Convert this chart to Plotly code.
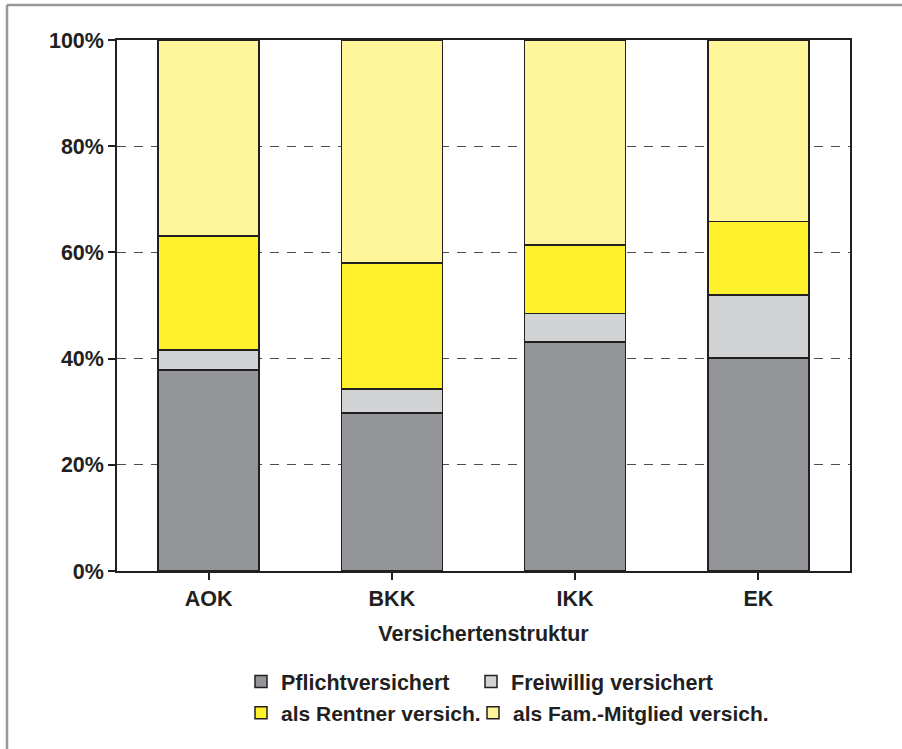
import plotly.graph_objects as go

categories = ["AOK", "BKK", "IKK", "EK"]
pflicht = [37.9, 29.8, 43.1, 40.1]
freiwillig = [3.7, 4.5, 5.35, 11.9]
rentner = [21.5, 23.7, 12.95, 13.8]
familie = [36.9, 42.0, 38.6, 34.2]

series = [
    ("Pflichtversichert", pflicht, "#939598", "legend"),
    ("Freiwillig versichert", freiwillig, "#d1d3d4", "legend2"),
    ("als Rentner versich.", rentner, "#fff22d", "legend3"),
    ("als Fam.-Mitglied versich.", familie, "#fff59b", "legend4"),
]

fig = go.Figure()
for name, vals, color, leg in series:
    fig.add_trace(go.Bar(
        x=categories, y=vals, name="<b>" + name + "</b>", legend=leg,
        showlegend=True,
        marker=dict(color=color, line=dict(color="#231f20", width=1.5)),
        width=0.55,
    ))

FAM = "Liberation Sans, Arial, sans-serif"
INK = "#231f20"
W, H = 902, 749
ml, mr, mt, mb = 117, 52, 40, 178
pw, ph = W - ml - mr, H - mt - mb

def px(x):
    return (x - ml) / pw

def py(y):
    return (H - mb - y) / ph

def leg(xpix, ypix, size):
    return dict(
        orientation="h", x=px(xpix), y=py(ypix), xanchor="left", yanchor="middle",
        font=dict(family=FAM, size=size, color=INK),
        bgcolor="rgba(0,0,0,0)",
    )

fig.update_layout(
    width=W, height=H,
    margin=dict(l=ml, r=mr, t=mt, b=mb, autoexpand=False),
    barmode="stack",
    showlegend=True,
    paper_bgcolor="white", plot_bgcolor="white",
    font=dict(family=FAM, size=21.5, color=INK),
    legend=leg(241, 681.5, 21.5),
    legend2=leg(471, 681.5, 21.5),
    legend3=leg(241, 713, 21),
    legend4=leg(473, 713, 21),
    shapes=[
        dict(type="line", xref="paper", yref="paper",
             x0=px(7), x1=px(910), y0=py(5), y1=py(5),
             line=dict(color="#999999", width=2.5), layer="below"),
        dict(type="line", xref="paper", yref="paper",
             x0=px(7), x1=px(7), y0=py(5), y1=py(760),
             line=dict(color="#999999", width=2.5), layer="below"),
    ],
)

fig.update_yaxes(
    range=[0, 100], tickvals=[0, 20, 40, 60, 80, 100],
    ticktext=["<b>0%</b>", "<b>20%</b>", "<b>40%</b>", "<b>60%</b>", "<b>80%</b>", "<b>100%</b>"],
    showgrid=True, gridcolor="#4d4d4d", gridwidth=1, griddash="9px,8px",
    showline=True, linecolor=INK, linewidth=1.5, mirror=True,
    ticks="outside", ticklen=7, tickcolor=INK, tickwidth=1.5,
    zeroline=False,
)
fig.update_xaxes(
    tickvals=categories, ticktext=["<b>" + c + "</b>" for c in categories],
    showline=True, linecolor=INK, linewidth=1.5, mirror=True,
    ticks="outside", ticklen=7, tickcolor=INK, tickwidth=1.5,
    title=dict(text="<b>Versichertenstruktur</b>", standoff=16,
               font=dict(family=FAM, size=21.5, color=INK)),
)

fig.write_html("out.html", config={"displayModeBar": False},
               post_script="document.body.style.margin='0px';")
